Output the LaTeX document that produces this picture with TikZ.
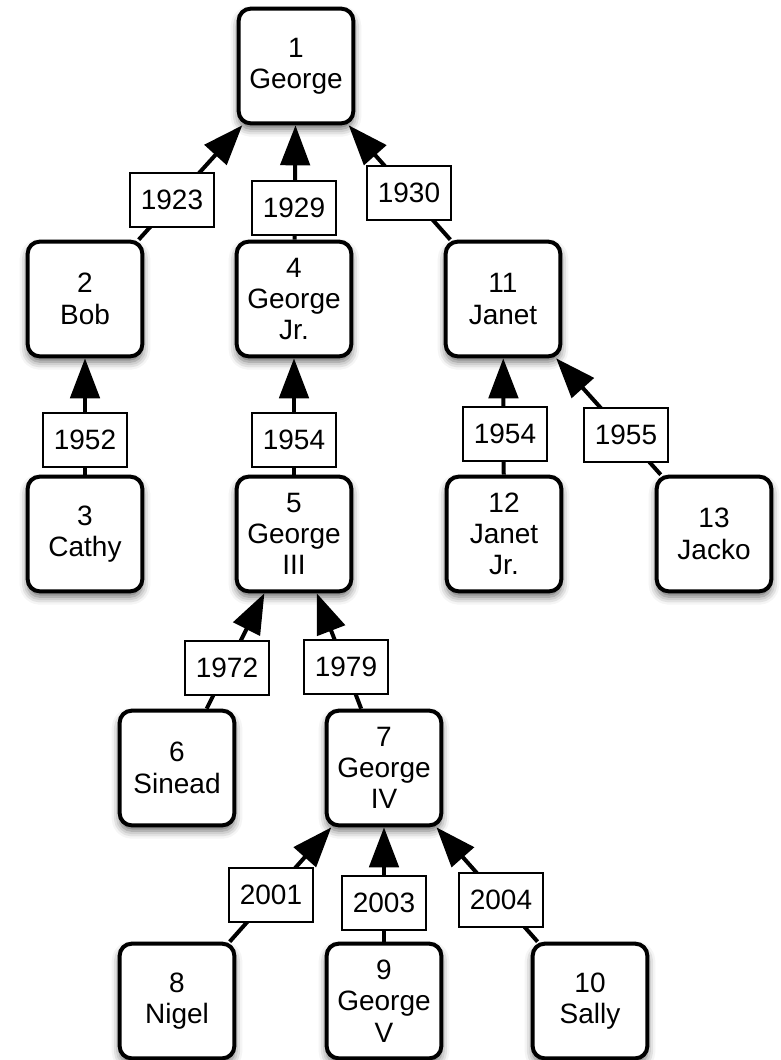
\documentclass[tikz,border=0pt]{standalone}
\usepackage{fontspec}
\setmainfont{Liberation Sans}
\usepackage{tikz}
\usetikzlibrary{arrows.meta,positioning,shadows.blur}
\tikzset{
  person/.style={draw=black,line width=3pt,rounded corners=9pt,fill=white,align=center,minimum width=86pt,minimum height=86pt,inner sep=2pt,font=\fontsize{21}{23.5}\selectfont,blur shadow={shadow xshift=0pt,shadow yshift=-4pt,shadow blur radius=6pt,shadow opacity=60}},
  yearbox/.style={draw=black,line width=1.5pt,fill=white,minimum width=63pt,minimum height=41pt,inner sep=2pt,font=\fontsize{21}{23.5}\selectfont},
  parentarrow/.style={-{Triangle[length=30pt,width=22pt]},line width=3pt,draw=black}
}

\begin{document}
\begin{tikzpicture}[x=0.75pt,y=-0.75pt]
\useasboundingbox (0,0) rectangle (781,1060);
\node[person] (n1) at (296,66) {1\\George};
\node[person] (n2) at (85,299) {2\\Bob};
\node[person] (n4) at (294,299) {4\\George\\Jr.};
\node[person] (n11) at (503,299) {11\\Janet};
\node[person] (n3) at (85,534) {3\\Cathy};
\node[person] (n5) at (294,534) {5\\George\\III};
\node[person] (n12) at (504,534) {12\\Janet\\Jr.};
\node[person] (n13) at (714,534) {13\\Jacko};
\node[person] (n6) at (177,768) {6\\Sinead};
\node[person] (n7) at (384,768) {7\\George\\IV};
\node[person] (n8) at (177,1001) {8\\Nigel};
\node[person] (n9) at (384,1001) {9\\George\\V};
\node[person] (n10) at (590,1001) {10\\Sally};
% child -> parent
\draw[parentarrow] (n2) -- (n1);
\draw[parentarrow] (n4) -- (n1);
\draw[parentarrow] (n11) -- (n1);
\draw[parentarrow] (n3) -- (n2);
\draw[parentarrow] (n5) -- (n4);
\draw[parentarrow] (n12) -- (n11);
\draw[parentarrow] (n13) -- (n11);
\draw[parentarrow] (n6) -- (n5);
\draw[parentarrow] (n7) -- (n5);
\draw[parentarrow] (n8) -- (n7);
\draw[parentarrow] (n9) -- (n7);
\draw[parentarrow] (n10) -- (n7);
% years on the links
\node[yearbox] (y1923) at (172,200) {1923};
\node[yearbox] (y1929) at (294,208) {1929};
\node[yearbox] (y1930) at (409,193) {1930};
\node[yearbox] (y1952) at (85,440) {1952};
\node[yearbox] (y1954a) at (294,440) {1954};
\node[yearbox] (y1954b) at (505,434) {1954};
\node[yearbox] (y1955) at (626,435) {1955};
\node[yearbox] (y1972) at (227,668) {1972};
\node[yearbox] (y1979) at (346,667) {1979};
\node[yearbox] (y2001) at (271,895) {2001};
\node[yearbox] (y2003) at (384,903) {2003};
\node[yearbox] (y2004) at (501,900) {2004};
\end{tikzpicture}
\end{document}
